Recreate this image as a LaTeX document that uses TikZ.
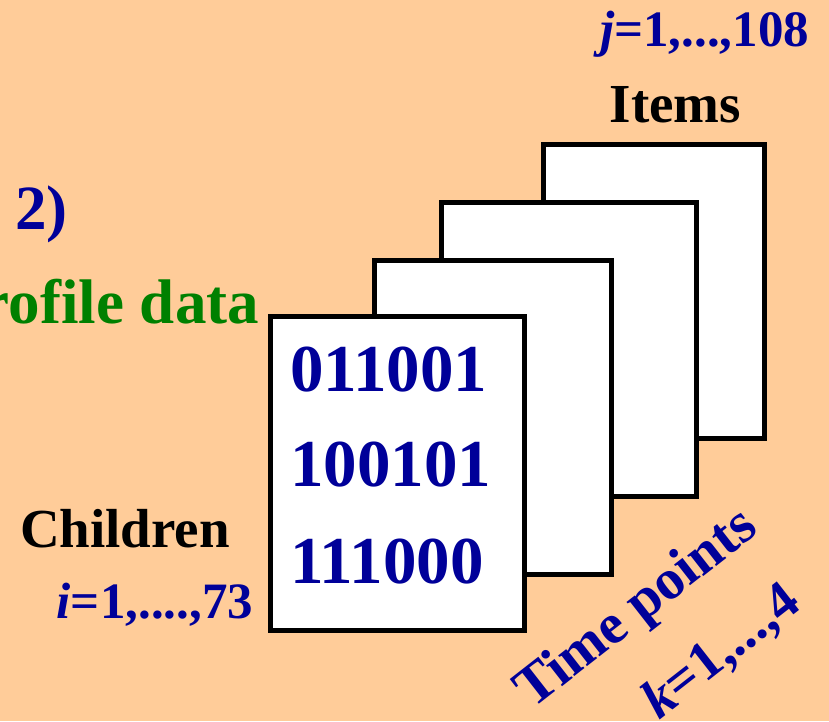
\documentclass[tikz,border=0pt]{standalone}
\usepackage{fontspec}
\setmainfont{Liberation Serif}
\definecolor{peach}{RGB}{255,204,153}
\definecolor{navy}{RGB}{0,0,153}
\definecolor{leaf}{RGB}{0,128,0}
\begin{document}
\begin{tikzpicture}[x=1pt,y=-1pt,
  sheet/.style={draw=black,fill=white,line width=5pt,inner sep=0pt,outer sep=0pt,anchor=north west},
  txt/.style={inner sep=0pt,outer sep=0pt,font=\bfseries\fontsize{#1}{#1}\selectfont},
  txt/.default=55]
\useasboundingbox (0,0) rectangle (829,721);
\fill[peach] (0,0) rectangle (829,721);
\clip (0,0) rectangle (829,721);

% stack of data sheets, back to front
\node[sheet,minimum width=221pt,minimum height=294.5pt] (sheet4) at (543.5,144) {};
\node[sheet,minimum width=255pt,minimum height=294pt] (sheet3) at (441.5,202.5) {};
\node[sheet,minimum width=237pt,minimum height=314pt] (sheet2) at (374.5,260.5) {};
\node[sheet,minimum width=254pt,minimum height=314pt] (sheet1) at (270.5,316.5) {};

% binary profile rows on the front sheet
\node[txt=67,text=navy,anchor=base west] (row1) at (290,391) {011001};
\node[txt=67,text=navy,anchor=base west] (row2) at (290,486) {100101};
\node[txt=67,text=navy,anchor=base west] (row3) at (290,583) {111000};

% labels
\node[txt=63,text=navy,anchor=base west] (num) at (15,229) {2)};
\node[txt=63,text=leaf,anchor=base east] (profile) at (259,323) {Profile data};
\node[txt=55,anchor=base] (items) at (675.5,122) {Items};
\node[txt=51,text=navy,anchor=base east] (jrange) at (809,46) {\itshape j\upshape=1,...,108};
\node[txt=55,anchor=base] (children) at (125,547) {Children};
\node[txt=51,text=navy,anchor=base east] (irange) at (253,618) {\itshape i\upshape=1,....,73};
\node[txt=57,text=navy,anchor=base,rotate=38] (time) at (646,621) {Time points};
\node[txt=55,text=navy,anchor=base,rotate=38] (krange) at (731,664) {\itshape k\upshape=1,...,4};
\end{tikzpicture}
\end{document}
